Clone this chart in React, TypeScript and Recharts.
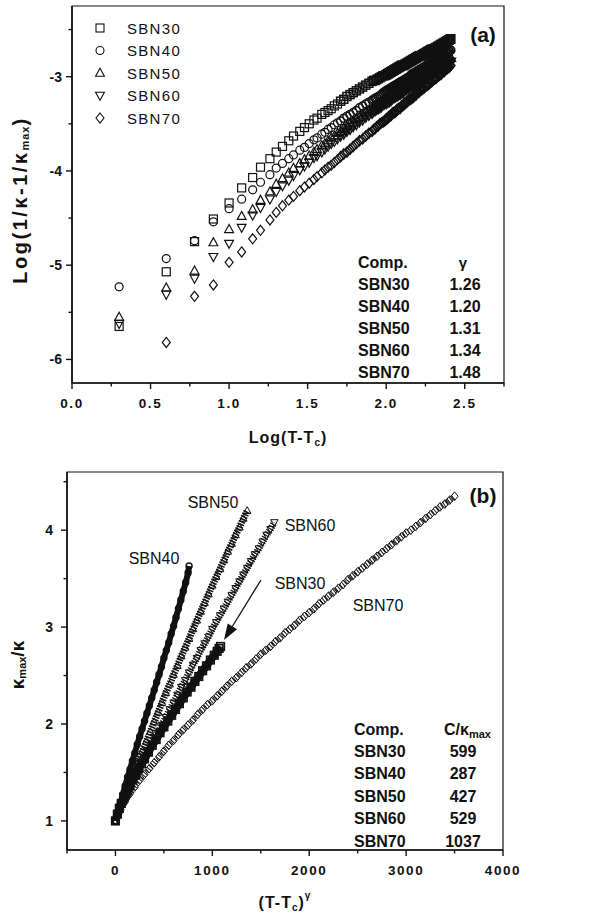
import React from 'react';
import { ScatterChart, Scatter, XAxis, YAxis, ReferenceArea, Legend } from 'recharts';

const FONT = "'Liberation Sans', Arial, Helvetica, sans-serif";
const INK = '#111';

// ---------- panel (a): Log(1/k - 1/kmax) vs Log(T - Tc) ----------
const SERIES_NAMES = ['SBN30', 'SBN40', 'SBN50', 'SBN60', 'SBN70'];
const GAMMA = ['1.26', '1.20', '1.31', '1.34', '1.48'];
const C_KMAX = ['599', '287', '427', '529', '1037'];

const LOG_DT = [0.30, 0.60, 0.78, 0.90, 1.00, 1.08, 1.15, 1.20, 1.26, 1.30, 1.34, 1.38, 1.41, 1.45, 1.48, 1.51, 1.54, 1.56,
  1.59, 1.61, 1.63, 1.65, 1.67, 1.69, 1.71, 1.73, 1.75, 1.77, 1.79, 1.81, 1.83, 1.85, 1.87, 1.89, 1.91, 1.93, 1.95, 1.97, 1.99,
  2.01, 2.03, 2.05, 2.07, 2.09, 2.11, 2.13, 2.15, 2.17, 2.19, 2.21, 2.23, 2.25, 2.27, 2.29, 2.31, 2.33, 2.35, 2.37, 2.39, 2.41];
const LOG_DT_FINE = [1.92, 1.94, 1.96, 1.98, 2.00, 2.02, 2.04, 2.06, 2.08, 2.10, 2.12, 2.14, 2.16, 2.18, 2.20, 2.22, 2.24, 2.26, 2.28, 2.30,
  2.32, 2.34, 2.36, 2.38, 2.40];

const A_SBN30 = [-5.65, -5.07, -4.75, -4.51, -4.34, -4.18, -4.07, -3.96, -3.87, -3.80, -3.74, -3.68, -3.63, -3.58, -3.54, -3.50, -3.46, -3.44,
  -3.40, -3.38, -3.36, -3.34, -3.31, -3.29, -3.26, -3.24, -3.21, -3.19, -3.17, -3.15, -3.13, -3.11, -3.09, -3.07, -3.05, -3.04, -3.02, -3.00, -2.99,
  -2.97, -2.95, -2.93, -2.91, -2.89, -2.88, -2.86, -2.84, -2.82, -2.80, -2.78, -2.77, -2.75, -2.73, -2.71, -2.70, -2.68, -2.66, -2.64, -2.62, -2.60];
const A_SBN30_FINE = [-3.04, -3.03, -3.01, -2.99, -2.98, -2.96, -2.94, -2.92, -2.90, -2.88, -2.87, -2.85, -2.83, -2.81, -2.79, -2.78, -2.76,
  -2.74, -2.72, -2.71, -2.69, -2.67, -2.65, -2.63, -2.61];
const A_SBN40 = [-5.23, -4.93, -4.74, -4.54, -4.40, -4.30, -4.20, -4.12, -4.04, -3.97, -3.92, -3.87, -3.83, -3.78, -3.75, -3.71, -3.67, -3.65,
  -3.61, -3.59, -3.56, -3.54, -3.51, -3.49, -3.47, -3.44, -3.42, -3.40, -3.38, -3.36, -3.33, -3.31, -3.29, -3.27, -3.25, -3.23, -3.21, -3.19, -3.16,
  -3.14, -3.12, -3.10, -3.08, -3.06, -3.04, -3.02, -3.00, -2.97, -2.95, -2.93, -2.91, -2.89, -2.87, -2.85, -2.82, -2.80, -2.78, -2.76, -2.74, -2.72];
const A_SBN40_FINE = [-3.24, -3.22, -3.20, -3.17, -3.15, -3.13, -3.11, -3.09, -3.07, -3.05, -3.03, -3.01, -2.98, -2.96, -2.94, -2.92, -2.90,
  -2.88, -2.86, -2.83, -2.81, -2.79, -2.77, -2.75, -2.73];
const A_SBN50 = [-5.55, -5.24, -5.06, -4.76, -4.62, -4.48, -4.41, -4.31, -4.22, -4.14, -4.08, -4.02, -3.97, -3.92, -3.88, -3.84, -3.80, -3.77,
  -3.73, -3.71, -3.68, -3.65, -3.63, -3.60, -3.58, -3.55, -3.53, -3.50, -3.48, -3.45, -3.43, -3.41, -3.38, -3.36, -3.34, -3.31, -3.29, -3.27, -3.25,
  -3.22, -3.20, -3.18, -3.16, -3.14, -3.11, -3.09, -3.07, -3.05, -3.03, -3.01, -2.99, -2.97, -2.95, -2.93, -2.91, -2.89, -2.86, -2.84, -2.82, -2.80];
const A_SBN50_FINE = [-3.32, -3.30, -3.28, -3.26, -3.23, -3.21, -3.19, -3.17, -3.15, -3.12, -3.10, -3.08, -3.06, -3.04, -3.02, -3.00, -2.98,
  -2.96, -2.94, -2.92, -2.90, -2.87, -2.85, -2.83, -2.81];
const A_SBN60 = [-5.62, -5.31, -5.14, -4.91, -4.77, -4.60, -4.47, -4.39, -4.30, -4.22, -4.16, -4.10, -4.05, -3.99, -3.95, -3.91, -3.86, -3.84,
  -3.80, -3.77, -3.74, -3.71, -3.69, -3.66, -3.63, -3.61, -3.58, -3.56, -3.53, -3.51, -3.48, -3.46, -3.43, -3.41, -3.39, -3.36, -3.34, -3.32, -3.29,
  -3.27, -3.25, -3.22, -3.20, -3.18, -3.16, -3.13, -3.11, -3.09, -3.07, -3.05, -3.02, -3.00, -2.98, -2.96, -2.94, -2.92, -2.90, -2.88, -2.86, -2.84];
const A_SBN60_FINE = [-3.37, -3.35, -3.33, -3.30, -3.28, -3.26, -3.23, -3.21, -3.19, -3.17, -3.14, -3.12, -3.10, -3.08, -3.06, -3.03, -3.01,
  -2.99, -2.97, -2.95, -2.93, -2.91, -2.89, -2.87, -2.85];
const A_SBN70 = [null, -5.82, -5.33, -5.21, -4.97, -4.86, -4.72, -4.63, -4.52, -4.44, -4.37, -4.31, -4.27, -4.21, -4.17, -4.13, -4.09, -4.06,
  -4.02, -3.99, -3.96, -3.94, -3.91, -3.88, -3.85, -3.82, -3.80, -3.77, -3.74, -3.71, -3.68, -3.66, -3.63, -3.60, -3.58, -3.55, -3.52, -3.49, -3.47,
  -3.44, -3.41, -3.38, -3.35, -3.33, -3.30, -3.27, -3.24, -3.22, -3.19, -3.16, -3.13, -3.10, -3.08, -3.05, -3.02, -2.99, -2.97, -2.94, -2.91, -2.88];
const A_SBN70_FINE = [-3.56, -3.53, -3.50, -3.48, -3.45, -3.42, -3.39, -3.37, -3.34, -3.31, -3.28, -3.25, -3.23, -3.20, -3.17, -3.14, -3.12,
  -3.09, -3.06, -3.03, -3.01, -2.98, -2.95, -2.92, -2.90];

const A_X_TICKS = [0, 0.25, 0.5, 0.75, 1, 1.25, 1.5, 1.75, 2, 2.25, 2.5, 2.75];
const A_X_MAJOR = [0, 0.5, 1, 1.5, 2, 2.5];
const A_Y_TICKS = [-6, -5.5, -5, -4.5, -4, -3.5, -3, -2.5];
const A_Y_MAJOR = [-6, -5, -4, -3];

// ---------- panel (b): kmax/k vs (T - Tc)^gamma ----------
const B_SBN30_X = [0, 20, 40, 60, 90, 120, 150, 180, 210, 240, 270, 300, 340, 380, 420, 460, 500, 540, 580, 620, 660, 700, 740, 780, 820, 860, 900, 940, 980, 1020, 1050, 1070, 1085];
const B_SBN30_Y = [1.00, 1.07, 1.13, 1.18, 1.25, 1.31, 1.37, 1.43, 1.48, 1.54, 1.59, 1.64, 1.71, 1.78, 1.84, 1.91, 1.97, 2.03, 2.09, 2.15, 2.21, 2.27, 2.33, 2.38, 2.44, 2.49, 2.55, 2.60, 2.66, 2.71, 2.75, 2.78, 2.80];
const B_SBN40_X = [0, 25, 50, 75, 100, 125, 150, 175, 200, 225, 250, 275, 300, 325, 350, 375, 400, 425, 450, 475, 500, 525, 550, 575, 600, 625, 650, 675, 700, 725, 750, 760];
const B_SBN40_Y = [1.00, 1.09, 1.18, 1.27, 1.36, 1.45, 1.53, 1.62, 1.70, 1.79, 1.87, 1.95, 2.03, 2.11, 2.19, 2.27, 2.35, 2.43, 2.51, 2.59, 2.68, 2.76, 2.84, 2.93, 3.01, 3.10, 3.19, 3.28, 3.37, 3.46, 3.56, 3.63];
const B_SBN50_X = [0, 40, 80, 120, 160, 200, 240, 280, 320, 360, 400, 440, 480, 520, 560, 600, 640, 680, 720, 760, 800, 840, 880, 920, 960, 1000, 1040, 1080, 1120, 1160, 1200, 1240, 1280, 1320, 1360];
const B_SBN50_Y = [1.00, 1.11, 1.21, 1.31, 1.42, 1.52, 1.62, 1.72, 1.82, 1.92, 2.02, 2.12, 2.22, 2.32, 2.41, 2.51, 2.60, 2.70, 2.79, 2.88, 2.98, 3.07, 3.16, 3.25, 3.34, 3.43, 3.52, 3.60, 3.69, 3.78, 3.86, 3.95, 4.03, 4.12, 4.20];
const B_SBN60_X = [0, 40, 80, 120, 160, 200, 240, 280, 320, 360, 400, 440, 480, 520, 560, 600, 640, 680, 720, 760, 800, 840, 880, 920, 960, 1000, 1040, 1080, 1120, 1160, 1200, 1240, 1280, 1320, 1360, 1400, 1440, 1480, 1520, 1560, 1600, 1640];
const B_SBN60_Y = [1.00, 1.09, 1.17, 1.25, 1.34, 1.42, 1.50, 1.59, 1.67, 1.75, 1.83, 1.91, 1.99, 2.07, 2.15, 2.22, 2.30, 2.38, 2.45, 2.53, 2.61, 2.68, 2.76, 2.83, 2.90, 2.98, 3.05, 3.12, 3.19, 3.26, 3.33, 3.40, 3.47, 3.54, 3.61, 3.68, 3.75, 3.81, 3.88, 3.95, 4.01, 4.08];
const B_SBN70_X = [0, 50, 100, 150, 200, 250, 300, 350, 400, 450, 500, 550, 600, 650, 700, 750, 800, 850, 900, 950, 1000, 1050, 1100, 1150, 1200, 1250, 1300, 1350, 1400, 1450, 1500,
  1550, 1600, 1650, 1700, 1750, 1800, 1850, 1900, 1950, 2000, 2050, 2100, 2150, 2200, 2250, 2300, 2350, 2400, 2450, 2500, 2550, 2600, 2650, 2700, 2750, 2800, 2850, 2900, 2950, 3000,
  3050, 3100, 3150, 3200, 3250, 3300, 3350, 3400, 3450, 3500];
const B_SBN70_Y = [1.00, 1.12, 1.20, 1.28, 1.35, 1.42, 1.48, 1.54, 1.60, 1.66, 1.72, 1.78, 1.83, 1.89, 1.94, 1.99, 2.04, 2.10, 2.15, 2.20, 2.24, 2.29, 2.34, 2.39, 2.44, 2.48, 2.53, 2.58, 2.62, 2.67, 2.72,
  2.76, 2.80, 2.85, 2.89, 2.94, 2.98, 3.02, 3.07, 3.11, 3.15, 3.19, 3.24, 3.28, 3.32, 3.36, 3.40, 3.44, 3.49, 3.53, 3.57, 3.61, 3.65, 3.69, 3.73, 3.77, 3.81, 3.85, 3.89, 3.93, 3.97,
  4.00, 4.04, 4.08, 4.12, 4.16, 4.20, 4.24, 4.27, 4.31, 4.35];

const B_X_TICKS = [-500, 0, 500, 1000, 1500, 2000, 2500, 3000, 3500, 4000];
const B_X_MAJOR = [0, 1000, 2000, 3000, 4000];
const B_Y_TICKS = [1, 1.5, 2, 2.5, 3, 3.5, 4, 4.5];
const B_Y_MAJOR = [1, 2, 3, 4];

// ---------- helpers ----------
const KIND: Record<string, string> = { SBN30: 'square', SBN40: 'circle', SBN50: 'up', SBN60: 'down', SBN70: 'diamond' };

const zipA = (ys: (number | null)[], fine: number[]) =>
  LOG_DT.map((x, i) => ({ x, y: ys[i] }))
    .filter((d) => d.y !== null)
    .concat(LOG_DT_FINE.map((x, i) => ({ x, y: fine[i] })));
const zipB = (xs: number[], ys: number[]) => xs.map((x, i) => ({ x, y: ys[i] }));

const A_DATA = [
  zipA(A_SBN30, A_SBN30_FINE),
  zipA(A_SBN40, A_SBN40_FINE),
  zipA(A_SBN50, A_SBN50_FINE),
  zipA(A_SBN60, A_SBN60_FINE),
  zipA(A_SBN70, A_SBN70_FINE),
];
const B_DATA = [
  zipB(B_SBN30_X, B_SBN30_Y),
  zipB(B_SBN40_X, B_SBN40_Y),
  zipB(B_SBN50_X, B_SBN50_Y),
  zipB(B_SBN60_X, B_SBN60_Y),
  zipB(B_SBN70_X, B_SBN70_Y),
];

function Mark({ cx, cy, kind, r, sw }: { cx: number; cy: number; kind: string; r: number; sw: number }) {
  if (cx == null || cy == null || isNaN(cx) || isNaN(cy)) return null;
  const common = { fill: 'none', stroke: INK, strokeWidth: sw };
  switch (kind) {
    case 'square':
      return <rect x={cx - r} y={cy - r} width={2 * r} height={2 * r} {...common} />;
    case 'circle':
      return <circle cx={cx} cy={cy} r={r} {...common} />;
    case 'up':
      return <path d={`M${cx},${cy - r * 1.2}L${cx + r * 1.1},${cy + r * 0.8}L${cx - r * 1.1},${cy + r * 0.8}Z`} {...common} />;
    case 'down':
      return <path d={`M${cx},${cy + r * 1.2}L${cx + r * 1.1},${cy - r * 0.8}L${cx - r * 1.1},${cy - r * 0.8}Z`} {...common} />;
    default:
      return <path d={`M${cx},${cy - r * 1.25}L${cx + r},${cy}L${cx},${cy + r * 1.25}L${cx - r},${cy}Z`} {...common} />;
  }
}

// heavier outlines where the scanned marker band is packed solid
const topStroke = (x: number) => (x >= 2.0 ? 2.0 : x >= 1.7 ? 1.5 : 1.2);

const isMajor = (majors: number[], v: number) => majors.some((m) => Math.abs(m - v) < 1e-9);

const makeXTick = (majors: number[], fmt: (v: number) => string) => (props: any) => {
  const { x, y, payload } = props;
  const v = payload.value;
  const major = isMajor(majors, v);
  return (
    <g>
      <line x1={x} y1={y} x2={x} y2={y + (major ? 6 : 3.5)} stroke={INK} strokeWidth={1.4} />
      {major && (
        <text x={x} y={y + 20} textAnchor="middle" dominantBaseline="central" fontFamily={FONT} fontWeight="bold"
          fontSize={13.5} letterSpacing={1.6} fill={INK}>{fmt(v)}</text>
      )}
    </g>
  );
};

const makeYTick = (majors: number[], fmt: (v: number) => string, gap: number) => (props: any) => {
  const { x, y, payload } = props;
  const v = payload.value;
  const major = isMajor(majors, v);
  return (
    <g>
      <line x1={x} y1={y} x2={x - (major ? 6 : 3.5)} y2={y} stroke={INK} strokeWidth={1.4} />
      {major && (
        <text x={x - gap} y={y} textAnchor="end" dominantBaseline="central" fontFamily={FONT} fontWeight="bold"
          fontSize={14} fill={INK}>{fmt(v)}</text>
      )}
    </g>
  );
};

const LegendA = (props: any) => {
  const names: string[] = props?.payload?.length ? props.payload.map((p: any) => String(p.value)) : SERIES_NAMES;
  return (
    <svg width={110} height={112}>
      {names.map((n, i) => (
        <g key={n}>
          <Mark cx={8} cy={10 + i * 22.5} kind={KIND[n]} r={4} sw={1.1} />
          <text x={35} y={10 + i * 22.5} dominantBaseline="central" fontFamily={FONT} fontSize={15} letterSpacing={1.3} fill={INK}>{n}</text>
        </g>
      ))}
    </svg>
  );
};

// panel (b): packed marker bands are rendered as a connecting band under the markers
const B_STYLE = [
  { r: 3.8, sw: 1.6, line: { stroke: INK, strokeWidth: 8 } },
  { r: 3.0, sw: 1.4, line: { stroke: INK, strokeWidth: 6 } },
  { r: 3.4, sw: 1.0, line: { stroke: INK, strokeWidth: 7, strokeDasharray: '1.6 1.1' } },
  { r: 3.4, sw: 1.0, line: { stroke: INK, strokeWidth: 7, strokeDasharray: '1.3 1.3' } },
  { r: 3.5, sw: 1.0, line: { stroke: INK, strokeWidth: 6, strokeDasharray: '1 1.8' } },
];

const txt = { fontFamily: FONT, fill: INK } as const;

export default function App() {
  return (
    <div style={{ position: 'absolute', left: 0, top: 0, width: 607, height: 922, background: '#fff', fontFamily: FONT }}>
      {/* panel (a) */}
      <div style={{ position: 'absolute', left: 0, top: 0 }}>
        <ScatterChart width={607} height={460} margin={{ top: 6, right: 103, bottom: 37, left: 12 }}>
          <XAxis type="number" dataKey="x" domain={[0, 2.75]} ticks={A_X_TICKS} interval={0} allowDataOverflow
            height={40} tickSize={0} tickMargin={0} tickLine={false} axisLine={{ stroke: INK, strokeWidth: 1.6 }}
            tick={makeXTick(A_X_MAJOR, (v) => v.toFixed(1))} />
          <YAxis type="number" dataKey="y" domain={[-6.25, -2.25]} ticks={A_Y_TICKS} interval={0} allowDataOverflow
            width={60} tickSize={0} tickMargin={0} tickLine={false} axisLine={{ stroke: INK, strokeWidth: 1.6 }}
            tick={makeYTick(A_Y_MAJOR, (v) => String(v), 10)} />
          <ReferenceArea x1={0} x2={2.75} y1={-6.25} y2={-2.25} fill="none" stroke={INK} strokeWidth={1.2} ifOverflow="visible" />
          {SERIES_NAMES.map((n, i) => (
            <Scatter key={n} name={n} data={A_DATA[i]} isAnimationActive={false}
              shape={(p: any) => <Mark cx={p.cx} cy={p.cy} kind={KIND[n]} r={4} sw={topStroke(p?.payload?.x ?? p?.x ?? 0)} />} />
          ))}
          <Legend layout="vertical" align="center" verticalAlign="middle" content={LegendA}
            wrapperStyle={{ left: 92, top: 18, width: 110, height: 112 }} />
        </ScatterChart>
      </div>

      {/* panel (b) */}
      <div style={{ position: 'absolute', left: 0, top: 460 }}>
        <ScatterChart width={607} height={462} margin={{ top: 12, right: 104, bottom: 32, left: 12 }}>
          <XAxis type="number" dataKey="x" domain={[-500, 4000]} ticks={B_X_TICKS} interval={0} allowDataOverflow
            height={40} tickSize={0} tickMargin={0} tickLine={false} axisLine={{ stroke: INK, strokeWidth: 1.6 }}
            tick={makeXTick(B_X_MAJOR, (v) => String(v))} />
          <YAxis type="number" dataKey="y" domain={[0.7, 4.6]} ticks={B_Y_TICKS} interval={0} allowDataOverflow
            width={55} tickSize={0} tickMargin={0} tickLine={false} axisLine={{ stroke: INK, strokeWidth: 1.6 }}
            tick={makeYTick(B_Y_MAJOR, (v) => String(v), 14)} />
          <ReferenceArea x1={-500} x2={4000} y1={0.7} y2={4.6} fill="none" stroke={INK} strokeWidth={1.2} ifOverflow="visible" />
          {SERIES_NAMES.map((n, i) => (
            <Scatter key={n} name={n} data={B_DATA[i]} isAnimationActive={false}
              line={B_STYLE[i].line}
              shape={(p: any) => <Mark cx={p.cx} cy={p.cy} kind={KIND[n]} r={B_STYLE[i].r} sw={B_STYLE[i].sw} />} />
          ))}
        </ScatterChart>
      </div>

      {/* annotations */}
      <svg width={607} height={922} style={{ position: 'absolute', left: 0, top: 0, pointerEvents: 'none' }}>
        {/* panel (a) */}
        <text x={483} y={34} textAnchor="middle" dominantBaseline="central" fontWeight="bold" fontSize={21} {...txt}>(a)</text>
        <text x={358} y={262} dominantBaseline="central" fontWeight="bold" fontSize={16} {...txt}>Comp.</text>
        <text x={463} y={262} textAnchor="middle" dominantBaseline="central" fontWeight="bold" fontSize={15} {...txt}>γ</text>
        {SERIES_NAMES.map((n, i) => (
          <g key={'ta' + n}>
            <text x={358} y={284 + i * 22.2} dominantBaseline="central" fontWeight="bold" fontSize={16} {...txt}>{n}</text>
            <text x={465} y={284 + i * 22.2} textAnchor="middle" dominantBaseline="central" fontWeight="bold" fontSize={16} {...txt}>{GAMMA[i]}</text>
          </g>
        ))}
        <text x={288} y={437} textAnchor="middle" dominantBaseline="central" fontWeight="bold" fontSize={16} letterSpacing={1} {...txt}>
          Log(T-T<tspan fontSize={10} dy={5}>c</tspan><tspan dy={-5}>)</tspan>
        </text>
        <text transform="translate(20,200) rotate(-90)" textAnchor="middle" dominantBaseline="central" fontWeight="bold" fontSize={20} letterSpacing={2.5} {...txt}>
          Log(1/κ-1/κ<tspan fontSize={11} dy={5} letterSpacing={1}>max</tspan><tspan dy={-5}>)</tspan>
        </text>

        {/* panel (b) */}
        <text x={483} y={495} textAnchor="middle" dominantBaseline="central" fontWeight="bold" fontSize={21} {...txt}>(b)</text>
        <text x={213} y={502} textAnchor="middle" dominantBaseline="central" fontSize={16} {...txt}>SBN50</text>
        <text x={310} y={525} textAnchor="middle" dominantBaseline="central" fontSize={16} {...txt}>SBN60</text>
        <text x={154} y={558} textAnchor="middle" dominantBaseline="central" fontSize={16} {...txt}>SBN40</text>
        <text x={300} y={583} textAnchor="middle" dominantBaseline="central" fontSize={16} {...txt}>SBN30</text>
        <text x={378} y={605} textAnchor="middle" dominantBaseline="central" fontSize={16} {...txt}>SBN70</text>
        <line x1={261} y1={580} x2={232} y2={627} stroke={INK} strokeWidth={1.3} />
        <polygon points="224,640 237.1,629.3 227.7,623.5" fill={INK} />
        <text x={354} y={729} dominantBaseline="central" fontWeight="bold" fontSize={16} {...txt}>Comp.</text>
        <text x={444} y={729} dominantBaseline="central" fontWeight="bold" fontSize={16} {...txt}>
          C/κ<tspan fontSize={11} dy={5}>max</tspan>
        </text>
        {SERIES_NAMES.map((n, i) => (
          <g key={'tb' + n}>
            <text x={354} y={751 + i * 22.6} dominantBaseline="central" fontWeight="bold" fontSize={16} {...txt}>{n}</text>
            <text x={463} y={751 + i * 22.6} textAnchor="middle" dominantBaseline="central" fontWeight="bold" fontSize={16} {...txt}>{C_KMAX[i]}</text>
          </g>
        ))}
        <text x={285} y={902} textAnchor="middle" dominantBaseline="central" fontWeight="bold" fontSize={16} letterSpacing={1} {...txt}>
          (T-T<tspan fontSize={10} dy={5}>c</tspan><tspan dy={-5}>)</tspan><tspan fontSize={10} dy={-7}>γ</tspan>
        </text>
        <text transform="translate(17,665) rotate(-90)" textAnchor="middle" dominantBaseline="central" fontWeight="bold" fontSize={19} {...txt}>
          κ<tspan fontSize={11} dy={5}>max</tspan><tspan dy={-5}>/κ</tspan>
        </text>
      </svg>
    </div>
  );
}
